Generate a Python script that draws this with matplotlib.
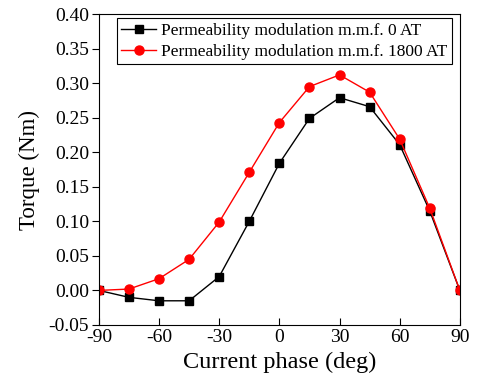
import numpy as np
import matplotlib.pyplot as plt

plt.rcParams['font.family'] = ['Liberation Serif', 'DejaVu Serif']
plt.rcParams['axes.unicode_minus'] = False

phase = [-90, -75, -60, -45, -30, -15, 0, 15, 30, 45, 60, 75, 90]
torque_0 = [0.0, -0.010, -0.015, -0.015, 0.020, 0.100, 0.184, 0.249, 0.279, 0.266, 0.211, 0.115, 0.0]
torque_1800 = [0.0, 0.002, 0.017, 0.045, 0.099, 0.171, 0.243, 0.295, 0.312, 0.287, 0.219, 0.119, 0.0]
yticks = [-0.05, 0.00, 0.05, 0.10, 0.15, 0.20, 0.25, 0.30, 0.35, 0.40]

fig = plt.figure(figsize=(4.8, 3.92), dpi=100)
ax = fig.add_axes([0.206, 0.171, 0.752, 0.793])

ax.plot(phase, torque_0, color='black', marker='s', markersize=5.5, linewidth=1,
        label='Permeability modulation m.m.f. 0 AT')
ax.plot(phase, torque_1800, color='red', marker='o', markersize=6.5, linewidth=1,
        label='Permeability modulation m.m.f. 1800 AT')

ax.set_xlim(-90, 90)
ax.set_ylim(-0.05, 0.40)
ax.set_xticks(np.arange(-90, 91, 30))
ax.set_yticks(yticks)
ax.set_yticklabels(['%.2f' % v for v in yticks])
ax.tick_params(labelsize=14, length=5, top=False, right=False)
ax.tick_params(axis='x', direction='in', pad=3)
ax.tick_params(axis='y', direction='out', pad=2)

ax.set_xlabel('Current phase (deg)', fontsize=17.5, labelpad=4)
ax.set_ylabel('Torque (Nm)', fontsize=16.5, labelpad=6)

leg = ax.legend(loc='upper left', bbox_to_anchor=(0.05, 0.987), fontsize=12.5,
                fancybox=False, edgecolor='black', framealpha=1,
                borderpad=0.25, labelspacing=0.3, handlelength=2.0, handletextpad=0.3,
                borderaxespad=0)
leg.get_frame().set_linewidth(0.8)

fig.savefig('out.png', dpi=100)
